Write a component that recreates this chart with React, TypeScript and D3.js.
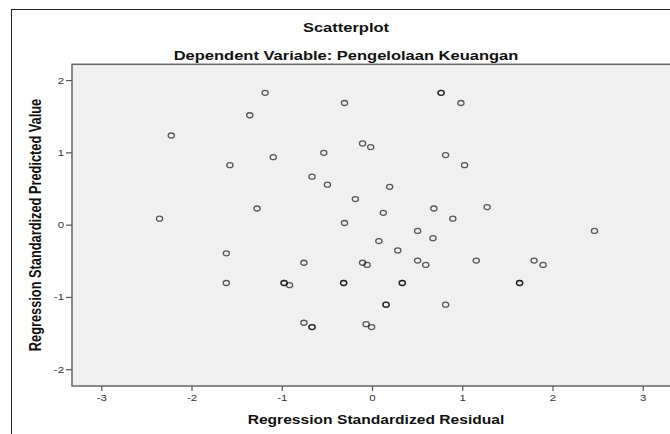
import React from 'react';
import * as d3 from 'd3';

// residual (x) and predicted value (y), duplicates drawn twice so they look darker
const residual = [
  -1.19, -0.31, 0.76, 0.76, 0.98, -1.36, -2.23, -0.11, -0.02, -0.54,
  -1.10, -1.58, 0.81, 1.02, -0.67, -0.50, 0.19, -0.19, 0.12, -1.28,
  -2.36, -0.31, 0.07, 0.68, 1.27, 0.89, 0.50, 0.67, 2.46, 0.28,
  -1.62, -0.76, -0.11, -0.06, -1.62, -0.98, -0.98, -0.92, -0.32, -0.32,
  0.15, 0.15, -0.76, -0.67, -0.67, -0.07, -0.01, 0.50, 0.59, 1.15,
  1.79, 1.89, 0.33, 0.33, 1.63, 1.63, 0.81,
];
const predicted = [
  1.83, 1.69, 1.83, 1.83, 1.69, 1.52, 1.24, 1.13, 1.08, 1.00,
  0.94, 0.83, 0.97, 0.83, 0.67, 0.56, 0.53, 0.36, 0.17, 0.23,
  0.09, 0.03, -0.22, 0.23, 0.25, 0.09, -0.08, -0.18, -0.08, -0.35,
  -0.39, -0.52, -0.52, -0.55, -0.80, -0.80, -0.80, -0.83, -0.80, -0.80,
  -1.10, -1.10, -1.35, -1.41, -1.41, -1.37, -1.41, -0.49, -0.55, -0.49,
  -0.49, -0.55, -0.80, -0.80, -0.80, -0.80, -1.10,
];
const xTicks = [-3, -2, -1, 0, 1, 2, 3];
const yTicks = [-2, -1, 0, 1, 2];

const title = 'Scatterplot';
const subtitle = 'Dependent Variable: Pengelolaan Keuangan';
const xTitle = 'Regression Standardized Residual';
const yTitle = 'Regression Standardized Predicted Value';

const W = 670, H = 434;
const plot = { left: 72, right: 673, top: 64.3, bottom: 386 };
const SX = 1.27; // the picture is stretched sideways
const font = 'Arial, "Liberation Sans", sans-serif';

export default function App() {
  const x = d3.scaleLinear().domain([-3.33, 3.33]).range([plot.left, plot.right]);
  const y = d3.scaleLinear().domain([-2.225, 2.225]).range([plot.bottom, plot.top]);
  const points = residual.map((r, i) => ({ r, p: predicted[i] }));

  return (
    <svg width={W} height={H} style={{ position: 'absolute', left: 0, top: 0, background: '#fff' }}
      fontFamily={font}>
      <rect x={11.5} y={9.5} width={W} height={H} fill="#fff" stroke="#222" strokeWidth={1} />

      <text transform={`translate(346,32) scale(${SX},1)`} textAnchor="middle"
        fontSize={13} fontWeight="bold" fill="#111">{title}</text>
      <text transform={`translate(346,59.5) scale(${SX},1)`} textAnchor="middle"
        fontSize={13} fontWeight="bold" fill="#111">{subtitle}</text>

      <rect x={plot.left} y={plot.top} width={plot.right - plot.left} height={plot.bottom - plot.top}
        fill="#f0f0f0" stroke="#666" strokeWidth={1.5} />

      {yTicks.map(t => (
        <g key={'y' + t}>
          <line x1={plot.left - 6} x2={plot.left} y1={y(t)} y2={y(t)} stroke="#555" strokeWidth={1.2} />
          <text transform={`translate(${plot.left - 8},${y(t) + 3}) scale(${SX},1)`} textAnchor="end"
            fontSize={9} fill="#333">{t}</text>
        </g>
      ))}
      {xTicks.map(t => (
        <g key={'x' + t}>
          <line x1={x(t)} x2={x(t)} y1={plot.bottom} y2={plot.bottom + 5} stroke="#555" strokeWidth={1.2} />
          <text transform={`translate(${x(t)},${plot.bottom + 15}) scale(${SX},1)`} textAnchor="middle"
            fontSize={9} fill="#333">{t}</text>
        </g>
      ))}

      {points.map((d, i) => (
        <ellipse key={i} cx={x(d.r)} cy={y(d.p)} rx={3.1} ry={2.5} fill="none"
          stroke="#111" strokeOpacity={0.68} strokeWidth={1.3} />
      ))}

      <text transform={`translate(376,423.5) scale(${SX},1)`} textAnchor="middle"
        fontSize={12.3} fontWeight="bold" fill="#111">{xTitle}</text>
      <text transform={`translate(40.5,225) scale(${SX},1) rotate(-90)`} textAnchor="middle"
        fontSize={12.8} fontWeight="bold" fill="#111">{yTitle}</text>
    </svg>
  );
}
